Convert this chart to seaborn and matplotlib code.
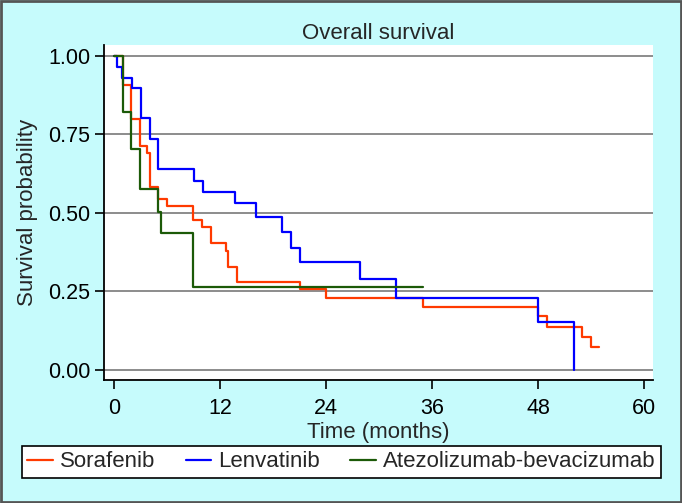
import matplotlib
matplotlib.use("Agg")
import matplotlib.pyplot as plt
import numpy as np
import pandas as pd
import seaborn as sns
from matplotlib.patches import Rectangle

# Kaplan-Meier step points (time in months, survival)
sora_time = [0, 0.95, 1.9, 2.9, 3.7, 4.0, 5.0, 6.0, 8.9, 9.9, 11.0, 12.65, 12.9, 13.9, 21.0, 24.0, 34.9, 48.0, 49.0, 53.0, 54.0, 54.9]
sora_surv = [1.0, 0.908, 0.80, 0.713, 0.692, 0.584, 0.544, 0.523, 0.478, 0.454, 0.403, 0.38, 0.327, 0.28, 0.257, 0.229, 0.20, 0.172, 0.138, 0.106, 0.073, 0.073]

lenv_time = [0, 0.3, 0.9, 2.0, 3.0, 4.0, 5.0, 9.0, 10.0, 13.65, 16.0, 19.0, 20.0, 21.0, 27.85, 31.9, 48.0, 52.1]
lenv_surv = [1.0, 0.965, 0.931, 0.899, 0.803, 0.735, 0.639, 0.602, 0.567, 0.531, 0.486, 0.439, 0.389, 0.344, 0.289, 0.229, 0.154, 0.0]

atez_time = [0, 0.95, 1.9, 2.9, 4.9, 5.3, 8.9, 34.9]
atez_surv = [1.0, 0.822, 0.704, 0.577, 0.504, 0.437, 0.265, 0.265]

arms = ["Sorafenib", "Lenvatinib", "Atezolizumab-bevacizumab"]
arm_colors = ["#FF3A00", "#0000FF", "#1C5A08"]

x_ticks = [0, 12, 24, 36, 48, 60]
y_ticks = [0, 0.25, 0.5, 0.75, 1.0]

df = pd.concat([
    pd.DataFrame({"time": sora_time, "surv": sora_surv, "arm": arms[0]}),
    pd.DataFrame({"time": lenv_time, "surv": lenv_surv, "arm": arms[1]}),
    pd.DataFrame({"time": atez_time, "surv": atez_surv, "arm": arms[2]}),
], ignore_index=True)

sns.set_theme(style="ticks")
plt.rcParams["font.family"] = ["Liberation Sans", "DejaVu Sans"]

bg = "#C6FBFC"
fig = plt.figure(figsize=(6.82, 5.03), dpi=100, facecolor=bg)
ax = fig.add_axes([104 / 682, 1 - 380 / 503, (653 - 104) / 682, (380 - 45) / 503])
ax.set_facecolor("white")

sns.lineplot(data=df, x="time", y="surv", hue="arm", hue_order=arms,
             palette=arm_colors, estimator=None, sort=False,
             drawstyle="steps-post", linewidth=1.6, legend=False, ax=ax)

ax.set_xlim(-1.17, 61.0)
ax.set_ylim(-0.032, 1.035)
ax.set_xticks(x_ticks)
ax.set_yticks(y_ticks)
ax.set_yticklabels([f"{v:.2f}" for v in y_ticks])
ax.yaxis.grid(True, color="#8C8C8C", linewidth=1.4)
ax.xaxis.grid(False)
ax.set_axisbelow(True)

for side in ["top", "right"]:
    ax.spines[side].set_visible(False)
for side in ["left", "bottom"]:
    ax.spines[side].set_color("black")
    ax.spines[side].set_linewidth(1.3)

ax.tick_params(axis="both", direction="out", length=6.3, width=1.2,
               color="black", labelsize=15.5, labelcolor="black")
ax.tick_params(axis="y", pad=3.5)
ax.tick_params(axis="x", pad=7)

ax.set_xlabel("Time (months)", fontsize=16, labelpad=1.5)
ax.set_ylabel("Survival probability", fontsize=16, labelpad=7.5)
ax.set_title("Overall survival", fontsize=16, pad=4)

handles = [plt.Line2D([], [], color=c, linewidth=1.6) for c in arm_colors]
leg = fig.legend(handles, arms, loc="lower left", ncol=3, mode="expand",
                 bbox_to_anchor=(21.7 / 682, 1 - 478 / 503, (660.7 - 21.7) / 682, 34 / 503),
                 fontsize=16, frameon=True, fancybox=False, shadow=False,
                 handlelength=1.15, handletextpad=0.3, borderpad=0.25,
                 borderaxespad=0, columnspacing=1.4)
leg.get_frame().set_edgecolor("black")
leg.get_frame().set_linewidth(1.2)
leg.get_frame().set_facecolor("white")
leg.get_frame().set_alpha(1)

fig.patches.append(Rectangle((0.002, 0.002), 0.996, 0.996, transform=fig.transFigure,
                             fill=False, edgecolor="#555555", linewidth=2))

fig.savefig("out.png", dpi=100, facecolor=fig.get_facecolor())
